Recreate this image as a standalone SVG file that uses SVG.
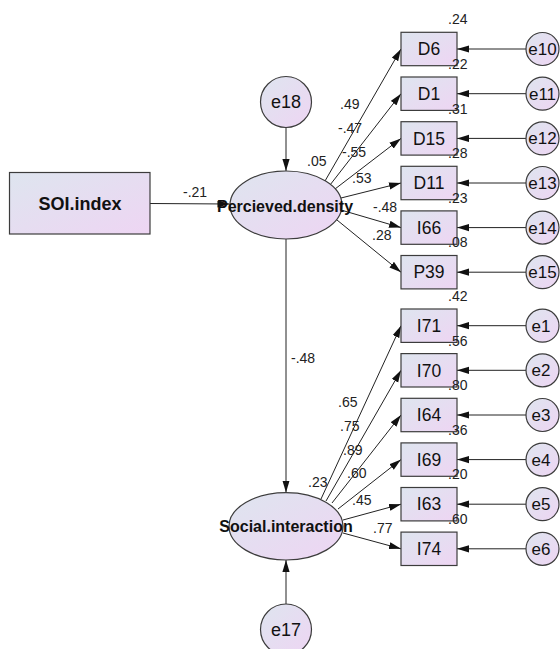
<svg xmlns="http://www.w3.org/2000/svg" width="560" height="649" viewBox="0 0 560 649">
<defs>
<linearGradient id="g" x1="0" y1="0" x2="1" y2="1">
<stop offset="0" stop-color="#dee5ef"/>
<stop offset="1" stop-color="#eed5f3"/>
</linearGradient>
<marker id="a" markerUnits="userSpaceOnUse" markerWidth="12" markerHeight="8" refX="12" refY="4" orient="auto">
<path d="M0,0.4 L12,4 L0,7.6 z" fill="#111"/>
</marker>
</defs>
<style>
.n{fill:url(#g);stroke:#3c3c3c;stroke-width:1.2}
.c line{stroke:#222;stroke-width:1;marker-end:url(#a)}
.t{font-family:"Liberation Sans",Arial,sans-serif;fill:#111}
.bl{font-size:17.5px;text-anchor:middle}
.el{font-size:17px;text-anchor:middle}
.lv{font-size:16px;font-weight:bold;text-anchor:middle}
.num{font-size:14px;fill:#222}
</style>
<rect width="560" height="649" fill="#fff"/>

<g id="connectors" class="c">
<line x1="150" y1="203.5" x2="229.5" y2="204"/>
<line x1="286" y1="127.5" x2="286" y2="171"/>
<line x1="286" y1="239" x2="286" y2="492.5"/>
<line x1="286" y1="604" x2="286" y2="560"/>
<line x1="325" y1="181" x2="401" y2="49"/>
<line x1="330" y1="185" x2="401" y2="93.7"/>
<line x1="335" y1="189" x2="401" y2="138.4"/>
<line x1="341" y1="198" x2="401" y2="183"/>
<line x1="341" y1="210" x2="401" y2="227.6"/>
<line x1="337" y1="220" x2="401" y2="272.2"/>
<line x1="321" y1="499" x2="401" y2="325.7"/>
<line x1="326" y1="501" x2="401" y2="370.3"/>
<line x1="332" y1="503" x2="401" y2="415"/>
<line x1="338" y1="509" x2="401" y2="459.6"/>
<line x1="343" y1="520" x2="401" y2="504.2"/>
<line x1="343" y1="533" x2="401" y2="548.8"/>
<line x1="526" y1="49" x2="457" y2="49"/>
<line x1="526" y1="93.7" x2="457" y2="93.7"/>
<line x1="526" y1="138.4" x2="457" y2="138.4"/>
<line x1="526" y1="183" x2="457" y2="183"/>
<line x1="526" y1="227.6" x2="457" y2="227.6"/>
<line x1="526" y1="272.2" x2="457" y2="272.2"/>
<line x1="526" y1="325.7" x2="457" y2="325.7"/>
<line x1="526" y1="370.3" x2="457" y2="370.3"/>
<line x1="526" y1="415" x2="457" y2="415"/>
<line x1="526" y1="459.6" x2="457" y2="459.6"/>
<line x1="526" y1="504.2" x2="457" y2="504.2"/>
<line x1="526" y1="548.8" x2="457" y2="548.8"/>
</g>

<g id="labels" class="t num">
<text x="183" y="196.7">-.21</text>
<text x="340" y="109">.49</text>
<text x="338" y="132.7">-.47</text>
<text x="342" y="157">-.55</text>
<text x="307" y="166">.05</text>
<text x="352" y="183.3">.53</text>
<text x="373" y="211.7">-.48</text>
<text x="372" y="240">.28</text>
<text x="291" y="362.7">-.48</text>
<text x="338" y="407.3">.65</text>
<text x="340" y="430.7">.75</text>
<text x="343" y="455">.89</text>
<text x="347" y="478.3">.60</text>
<text x="308" y="486.7">.23</text>
<text x="352" y="505">.45</text>
<text x="373" y="533.3">.77</text>
</g>

<g id="SOI.index"><rect class="n" x="9.5" y="172.5" width="140.5" height="61.5"/><text class="t" x="80" y="210" font-size="18" font-weight="bold" text-anchor="middle">SOI.index</text></g>
<g id="Percieved.density"><ellipse class="n" cx="286" cy="205" rx="56" ry="34"/><text class="t lv" x="285" y="211.5">Percieved.density</text></g>
<g id="Social.interaction"><ellipse class="n" cx="286" cy="526.3" rx="57" ry="33.7"/><text class="t lv" x="286" y="531.7">Social.interaction</text></g>
<g id="e18"><circle class="n" cx="286" cy="102" r="25.5"/><text class="t" x="286" y="108" font-size="18" text-anchor="middle">e18</text></g>
<g id="e17"><circle class="n" cx="286" cy="629.5" r="25.5"/><text class="t" x="286" y="635.5" font-size="18" text-anchor="middle">e17</text></g>

<g id="D6"><rect class="n" x="401" y="32.3" width="56" height="33.4"/><text class="t bl" x="429" y="55.2">D6</text><text class="t num" x="448" y="24.3">.24</text></g>
<g id="D1"><rect class="n" x="401" y="77" width="56" height="33.4"/><text class="t bl" x="429" y="99.9">D1</text><text class="t num" x="448" y="69">.22</text></g>
<g id="D15"><rect class="n" x="401" y="121.7" width="56" height="33.4"/><text class="t bl" x="429" y="144.6">D15</text><text class="t num" x="448" y="113.7">.31</text></g>
<g id="D11"><rect class="n" x="401" y="166.3" width="56" height="33.4"/><text class="t bl" x="429" y="189.2">D11</text><text class="t num" x="448" y="158.2">.28</text></g>
<g id="I66"><rect class="n" x="401" y="210.9" width="56" height="33.4"/><text class="t bl" x="429" y="233.8">I66</text><text class="t num" x="448" y="202.8">.23</text></g>
<g id="P39"><rect class="n" x="401" y="255.5" width="56" height="33.4"/><text class="t bl" x="429" y="278.4">P39</text><text class="t num" x="448" y="247.4">.08</text></g>
<g id="I71"><rect class="n" x="401" y="309" width="56" height="33.4"/><text class="t bl" x="429" y="331.9">I71</text><text class="t num" x="448" y="301">.42</text></g>
<g id="I70"><rect class="n" x="401" y="353.6" width="56" height="33.4"/><text class="t bl" x="429" y="376.5">I70</text><text class="t num" x="448" y="345.6">.56</text></g>
<g id="I64"><rect class="n" x="401" y="398.3" width="56" height="33.4"/><text class="t bl" x="429" y="421.2">I64</text><text class="t num" x="448" y="390.2">.80</text></g>
<g id="I69"><rect class="n" x="401" y="442.9" width="56" height="33.4"/><text class="t bl" x="429" y="465.8">I69</text><text class="t num" x="448" y="434.8">.36</text></g>
<g id="I63"><rect class="n" x="401" y="487.5" width="56" height="33.4"/><text class="t bl" x="429" y="510.4">I63</text><text class="t num" x="448" y="479.4">.20</text></g>
<g id="I74"><rect class="n" x="401" y="532.1" width="56" height="33.4"/><text class="t bl" x="429" y="555">I74</text><text class="t num" x="448" y="524">.60</text></g>

<g id="e10"><circle class="n" cx="542.5" cy="49" r="16.5"/><text class="t el" x="542.5" y="55">e10</text></g>
<g id="e11"><circle class="n" cx="542.5" cy="93.7" r="16.5"/><text class="t el" x="542.5" y="99.7">e11</text></g>
<g id="e12"><circle class="n" cx="542.5" cy="138.4" r="16.5"/><text class="t el" x="542.5" y="144.4">e12</text></g>
<g id="e13"><circle class="n" cx="542.5" cy="183" r="16.5"/><text class="t el" x="542.5" y="189">e13</text></g>
<g id="e14"><circle class="n" cx="542.5" cy="227.6" r="16.5"/><text class="t el" x="542.5" y="233.6">e14</text></g>
<g id="e15"><circle class="n" cx="542.5" cy="272.2" r="16.5"/><text class="t el" x="542.5" y="278.2">e15</text></g>
<g id="e1"><circle class="n" cx="542.5" cy="325.7" r="16.5"/><text class="t el" x="541" y="331.7">e1</text></g>
<g id="e2"><circle class="n" cx="542.5" cy="370.3" r="16.5"/><text class="t el" x="541" y="376.3">e2</text></g>
<g id="e3"><circle class="n" cx="542.5" cy="415" r="16.5"/><text class="t el" x="541" y="421">e3</text></g>
<g id="e4"><circle class="n" cx="542.5" cy="459.6" r="16.5"/><text class="t el" x="541" y="465.6">e4</text></g>
<g id="e5"><circle class="n" cx="542.5" cy="504.2" r="16.5"/><text class="t el" x="541" y="510.2">e5</text></g>
<g id="e6"><circle class="n" cx="542.5" cy="548.8" r="16.5"/><text class="t el" x="541" y="554.8">e6</text></g>
</svg>
